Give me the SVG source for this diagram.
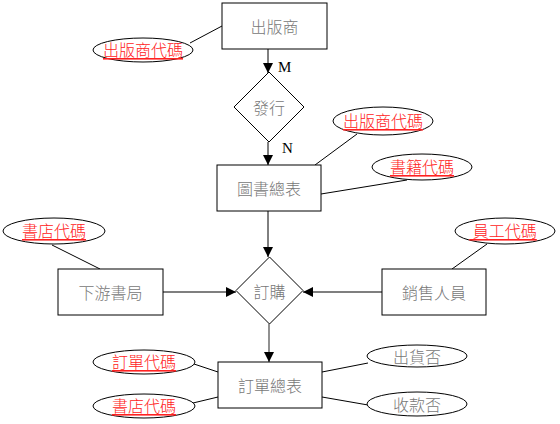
<svg xmlns="http://www.w3.org/2000/svg" width="560" height="424" viewBox="0 0 560 424">
<defs>
<marker id="arr" viewBox="0 0 10 10" refX="10" refY="5" markerWidth="10" markerHeight="10" markerUnits="userSpaceOnUse" orient="auto">
<path d="M0,0 L10,5 L0,10 z" fill="#000"/>
</marker>
<style>
.box{fill:#fff;stroke:#000;stroke-width:1}
.ell{fill:#fff;stroke:#000;stroke-width:1}
.lbl{font-family:"Noto Sans CJK TC","Noto Sans CJK SC",sans-serif;font-size:16px;font-weight:300;fill:#777;text-anchor:middle;dominant-baseline:central}
.key{font-family:"Noto Sans CJK TC","Noto Sans CJK SC",sans-serif;font-size:16px;font-weight:300;fill:#f22;text-anchor:middle;dominant-baseline:central;text-decoration:underline}
.card{font-family:"Liberation Serif",serif;font-size:15px;font-weight:normal;fill:#000}
.ln{stroke:#000;stroke-width:1;fill:none}
.gl{stroke:#555;stroke-width:1.3;fill:none}
</style>
</defs>
<rect width="560" height="424" fill="#fff"/>
<g id="connectors">
<line class="ln" x1="190" y1="43" x2="222" y2="26"/>
<line class="ln" x1="268" y1="49" x2="268" y2="73" marker-end="url(#arr)"/>
<line class="ln" x1="268" y1="142" x2="268" y2="165" marker-end="url(#arr)"/>
<line class="ln" x1="357" y1="134" x2="315" y2="165"/>
<line class="ln" x1="407" y1="180" x2="321" y2="194"/>
<line class="ln" x1="268" y1="211" x2="268" y2="257" marker-end="url(#arr)"/>
<line class="ln" x1="52" y1="245" x2="100" y2="269"/>
<line class="ln" x1="487" y1="244" x2="452" y2="269"/>
<line class="gl" x1="163" y1="292" x2="236" y2="292" marker-end="url(#arr)"/>
<line class="gl" x1="382" y1="292" x2="303" y2="292" marker-end="url(#arr)"/>
<line class="gl" x1="269" y1="324" x2="269" y2="362" marker-end="url(#arr)"/>
<line class="ln" x1="194" y1="364" x2="218" y2="372"/>
<line class="ln" x1="193" y1="403" x2="218" y2="397"/>
<line class="ln" x1="368" y1="363" x2="322" y2="372"/>
<line class="ln" x1="368" y1="405" x2="322" y2="397"/>
<text class="card" x="278" y="72">M</text>
<text class="card" x="282" y="153">N</text>
</g>
<g id="publisher"><rect class="box" x="222" y="3" width="105" height="46"/><text class="lbl" x="274.5" y="26">出版商</text></g>
<g id="publisher-id"><ellipse class="ell" cx="143" cy="50" rx="50" ry="12"/><text class="key" x="143" y="49">出版商代碼</text></g>
<g id="issue"><polygon class="box" points="269,72 304,107 269,142 234,107"/><text class="lbl" x="269" y="107">發行</text></g>
<g id="books"><rect class="box" x="217" y="165" width="104" height="46"/><text class="lbl" x="269" y="188">圖書總表</text></g>
<g id="books-publisher-id"><ellipse class="ell" cx="383" cy="121" rx="50" ry="14"/><text class="key" x="383" y="120">出版商代碼</text></g>
<g id="book-id"><ellipse class="ell" cx="422" cy="167" rx="50" ry="13"/><text class="key" x="422" y="166">書籍代碼</text></g>
<g id="store"><rect class="box" x="58" y="269" width="105" height="46"/><text class="lbl" x="110.5" y="292">下游書局</text></g>
<g id="store-id"><ellipse class="ell" cx="54" cy="231" rx="51" ry="13"/><text class="key" x="54" y="230">書店代碼</text></g>
<g id="order-rel"><polygon class="box" points="269.5,257 303,290.5 269.5,324 236,290.5"/><text class="lbl" x="269.5" y="291">訂購</text></g>
<g id="sales"><rect class="box" x="382" y="269" width="104" height="46"/><text class="lbl" x="434" y="292">銷售人員</text></g>
<g id="staff-id"><ellipse class="ell" cx="505" cy="231" rx="50" ry="13"/><text class="key" x="503" y="230">&#160;員工代碼</text></g>
<g id="orders"><rect class="box" x="218" y="362" width="104" height="46"/><text class="lbl" x="270" y="385">訂單總表</text></g>
<g id="order-id"><ellipse class="ell" cx="144" cy="362" rx="51" ry="12"/><text class="key" x="144" y="361">訂單代碼</text></g>
<g id="order-store-id"><ellipse class="ell" cx="144" cy="406" rx="51" ry="12"/><text class="key" x="144" y="405">書店代碼</text></g>
<g id="shipped"><ellipse class="ell" cx="417" cy="356" rx="50" ry="11"/><text class="lbl" x="417" y="356">出貨否</text></g>
<g id="paid"><ellipse class="ell" cx="417" cy="404" rx="50" ry="12"/><text class="lbl" x="417" y="404">收款否</text></g>
</svg>
